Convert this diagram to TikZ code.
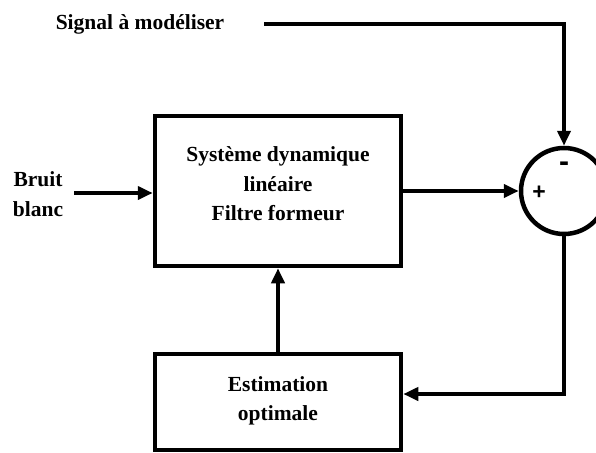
\documentclass[tikz,border=0pt]{standalone}
\usepackage{fontspec}
\setmainfont{Liberation Serif}
\newfontfamily\signfont{Liberation Sans}
\usetikzlibrary{arrows.meta}
\begin{document}
\begin{tikzpicture}[x=1pt,y=-1pt,
  blk/.style={draw, line width=4.5pt, inner sep=0pt},
  conn/.style={line width=4pt, -{Triangle[length=15pt,width=13pt]}},
  lbl/.style={font=\fontsize{21.5}{29.5}\selectfont\bfseries, align=center, inner sep=0pt},
  sgn/.style={font=\signfont\fontsize{23}{23}\selectfont\bfseries, inner sep=0pt}]
\useasboundingbox (0,0) rectangle (596,452);
\node[blk, minimum width=246pt, minimum height=150pt] (sys) at (278,191) {};
\node[lbl] (syst) at (278,184) {Système dynamique\\linéaire\\Filtre formeur};
\node[blk, minimum width=246pt, minimum height=96pt] (est) at (278,402) {};
\node[lbl] (estt) at (278,401) {Estimation\\optimale};
\node[draw, circle, line width=4.5pt, minimum size=86pt, inner sep=0pt] (circ) at (564,191) {};
\node[sgn, font=\signfont\fontsize{30}{30}\selectfont\bfseries] (minus) at (564,167) {-};
\node[sgn] (plus) at (539,193) {+};
\node[lbl] (sig) at (140,24) {Signal à modéliser};
\node[lbl] (bb) at (38,194) {Bruit\\blanc};
\coordinate (sigstart) at (264,24);
\coordinate (bbstart) at (74,193);
\coordinate (ret) at (564,394);
\draw[conn] (sigstart) -| (circ.north);
\draw[conn] (bbstart) -- (sys.west |- bbstart);
\draw[conn] (sys.east) -- (circ.west);
\draw[conn] (est.north) -- (sys.south);
\draw[conn] (circ.south) -- (ret) -- (ret -| est.east);
\end{tikzpicture}
\end{document}
